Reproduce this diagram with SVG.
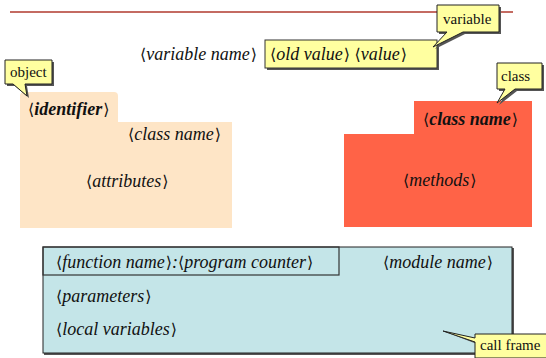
<svg xmlns="http://www.w3.org/2000/svg" width="546" height="358" viewBox="0 0 546 358">
<style>
.it{font-family:'Liberation Serif','Times New Roman',serif;font-style:italic;font-size:18px;fill:#111}
.bi{font-family:'Liberation Serif','Times New Roman',serif;font-style:italic;font-weight:bold;font-size:18px;fill:#111}
.br{font-family:'DejaVu Sans',sans-serif;font-style:normal;font-weight:normal;font-size:16px}
.cl{font-family:'Liberation Serif','Times New Roman',serif;font-size:15px;fill:#111}
.call{fill:#ffffa0;stroke:#222;stroke-width:1}
.shadow{fill:#555}
</style>
<rect width="546" height="358" fill="#fff"/>
<line x1="10" y1="12" x2="513" y2="12" stroke="#b03a2e" stroke-width="1.5"/>

<g id="variable">
<text class="it" x="140" y="60"><tspan class="br">⟨</tspan>variable name<tspan class="br" dx="1">⟩</tspan></text>
<rect x="267" y="42" width="172" height="28" class="shadow"/>
<rect x="265" y="40" width="172" height="28" fill="#ffffa0" stroke="#333"/>
<text class="it" x="270" y="60"><tspan class="br">⟨</tspan>old value<tspan class="br" dx="1">⟩</tspan>  <tspan class="br">⟨</tspan>value<tspan class="br" dx="1">⟩</tspan></text>
</g>

<g id="object">
<path d="M20,122 V96 Q20,92 24,92 H114 Q118,92 118,96 V122 H232 V228 H20 Z" fill="#fee5c6"/>
<text class="bi" x="28" y="115"><tspan class="br">⟨</tspan>identifier<tspan class="br" dx="1">⟩</tspan></text>
<text class="it" x="128" y="140"><tspan class="br">⟨</tspan>class name<tspan class="br" dx="1">⟩</tspan></text>
<text class="it" x="86" y="187"><tspan class="br">⟨</tspan>attributes<tspan class="br" dx="1">⟩</tspan></text>
</g>

<g id="class">
<path d="M414,101 H532 V227 H344 V134 H414 Z" fill="#ff6347"/>
<text class="bi" x="423" y="125"><tspan class="br">⟨</tspan>class name<tspan class="br" dx="1">⟩</tspan></text>
<text class="it" x="403" y="186"><tspan class="br">⟨</tspan>methods<tspan class="br" dx="1">⟩</tspan></text>
</g>

<g id="callframe">
<rect x="44" y="248" width="470" height="107" class="shadow"/>
<rect x="43" y="247" width="469" height="106" fill="#c4e5e8" stroke="#222"/>
<rect x="43" y="247" width="296" height="28" fill="none" stroke="#333" stroke-width="1.2"/>
<text class="it" x="56" y="268"><tspan class="br">⟨</tspan>function name<tspan class="br" dx="1">⟩</tspan>:<tspan class="br">⟨</tspan>program counter<tspan class="br" dx="1">⟩</tspan></text>
<text class="it" x="383" y="268"><tspan class="br">⟨</tspan>module name<tspan class="br" dx="1">⟩</tspan></text>
<text class="it" x="56" y="302"><tspan class="br">⟨</tspan>parameters<tspan class="br" dx="1">⟩</tspan></text>
<text class="it" x="56" y="335"><tspan class="br">⟨</tspan>local variables<tspan class="br" dx="1">⟩</tspan></text>
</g>

<g id="connectors">
<g id="callout-variable">
<path d="M439,7 H501 V34 H465 L435,49 L449,34 H439 Z" class="shadow"/>
<path d="M437,5 H499 V32 H463 L433,47 L447,32 H437 Z" class="call"/>
<text class="cl" x="443" y="24">variable</text>
</g>
<g id="callout-object">
<path d="M7,62 H54 V86 H27 L29,98 L15,86 H7 Z" class="shadow"/>
<path d="M5,60 H52 V84 H25 L27,96 L13,84 H5 Z" class="call"/>
<text class="cl" x="10" y="77">object</text>
</g>
<g id="callout-class">
<path d="M499,65 H544 V91 H517 L499,105 L507,91 H499 Z" class="shadow"/>
<path d="M497,63 H542 V89 H515 L497,103 L505,89 H497 Z" class="call"/>
<text class="cl" x="501" y="81">class</text>
</g>
<g id="callout-callframe">
<path d="M477,336 H548 V360 H477 V344 L443,331 L477,340 Z" class="shadow"/>
<path d="M475,334 H548 V358 H475 V342 L443,331 L475,338 Z" class="call"/>
<text class="cl" x="480" y="350">call frame</text>
</g>
</g>
</svg>
